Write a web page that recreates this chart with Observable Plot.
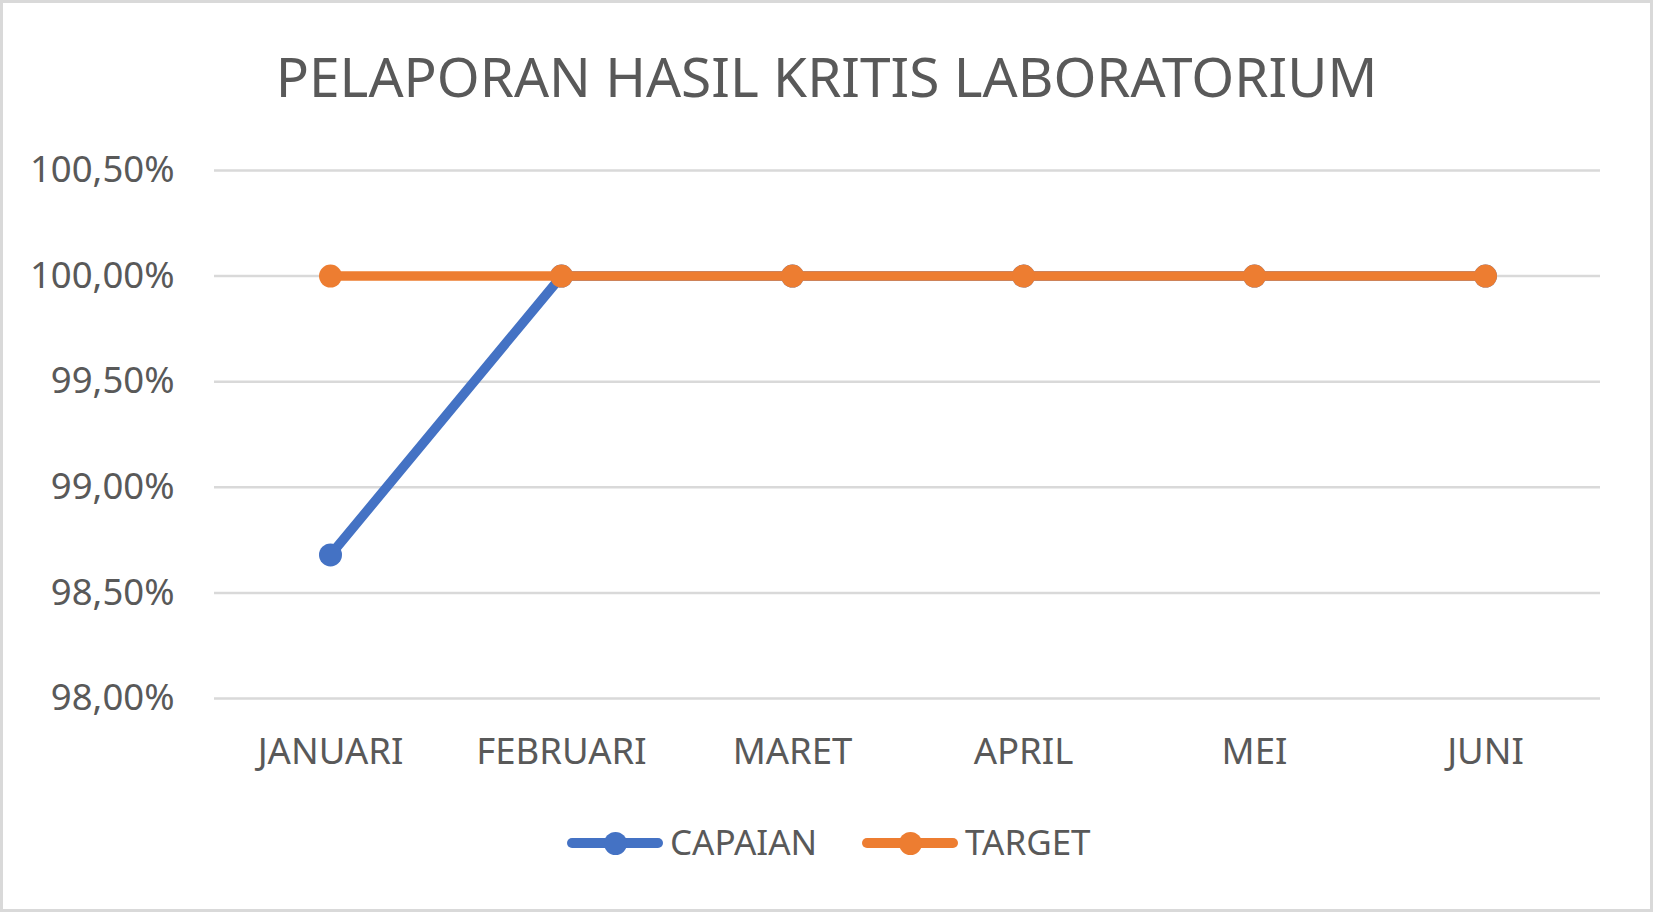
<!DOCTYPE html>
<html>
<head>
<meta charset="utf-8">
<script src="https://cdn.jsdelivr.net/npm/d3@7"></script>
<script src="https://cdn.jsdelivr.net/npm/@observablehq/plot@0.6"></script>
<style>
  html, body { margin: 0; padding: 0; background: #fff; }
  #wrap { position: relative; width: 1653px; height: 912px; background: #fff; font-family: "Noto Sans", sans-serif; color: #595959; overflow: hidden; }
  #frame { position: absolute; left: 0; top: 0; width: 1653px; height: 912px; box-sizing: border-box; border: 3px solid #d9d9d9; pointer-events: none; }
  #title { position: absolute; left: 0; top: 48px; width: 1653px; text-align: center; font-size: 55px; line-height: 1; white-space: nowrap; }
  #chart { position: absolute; left: 0; top: 120px; }
  .lg-line { position: absolute; height: 9.5px; border-radius: 5px; }
  .lg-dot { position: absolute; width: 23px; height: 23px; border-radius: 50%; }
  .lg-text { position: absolute; font-size: 35px; line-height: 1; white-space: nowrap; }
</style>
</head>
<body>
<div id="wrap">
  <div id="title">PELAPORAN HASIL KRITIS LABORATORIUM</div>
  <div id="chart"></div>
  <div id="legend"></div>
  <div id="frame"></div>
</div>
<script>
const months = ["JANUARI", "FEBRUARI", "MARET", "APRIL", "MEI", "JUNI"];
const capaian = [98.68, 100, 100, 100, 100, 100];
const target = [100, 100, 100, 100, 100, 100];
const yTicks = [98, 98.5, 99, 99.5, 100, 100.5];
const seriesNames = ["CAPAIAN", "TARGET"];
const seriesColors = ["#4472C4", "#ED7D31"];

const fmt = v => v.toFixed(2).replace(".", ",") + "%";

const capaianData = months.map((m, i) => ({month: m, value: capaian[i]}));
const targetData = months.map((m, i) => ({month: m, value: target[i]}));

const chart = Plot.plot({
  width: 1653,
  height: 680,
  marginLeft: 214,
  marginRight: 53,
  marginTop: 50,
  marginBottom: 102,
  x: {type: "point", domain: months, padding: 0.5, label: null},
  y: {domain: [98, 100.5], label: null},
  style: {fontFamily: "Noto Sans", fontSize: "36.5px", color: "#595959", background: "transparent", overflow: "visible"},
  marks: [
    Plot.gridY(yTicks, {stroke: "#d9d9d9", strokeOpacity: 1, strokeWidth: 2.5}),
    Plot.axisY({ticks: yTicks, tickSize: 0, tickPadding: 40, tickFormat: fmt, fontSize: 36.5, fill: "#595959", label: null}),
    Plot.axisX({tickSize: 0, tickPadding: 40, fontSize: 36.5, fill: "#595959", label: null}),
    Plot.lineY(capaianData, {x: "month", y: "value", stroke: seriesColors[0], strokeWidth: 9.5}),
    Plot.dot(capaianData, {x: "month", y: "value", r: 11.5, fill: seriesColors[0]}),
    Plot.lineY(targetData, {x: "month", y: "value", stroke: seriesColors[1], strokeWidth: 9.5}),
    Plot.dot(targetData, {x: "month", y: "value", r: 11.5, fill: seriesColors[1]})
  ]
});
document.getElementById("chart").appendChild(chart);

// legend
const legend = document.getElementById("legend");
const legendItems = [
  {lineLeft: 567, dotCenter: 615, textLeft: 670},
  {lineLeft: 862, dotCenter: 910, textLeft: 965}
];
const cy = 843;
legendItems.forEach((it, i) => {
  const ln = document.createElement("div");
  ln.className = "lg-line";
  ln.style.left = it.lineLeft + "px";
  ln.style.top = (cy - 4.75) + "px";
  ln.style.width = "96px";
  ln.style.background = seriesColors[i];
  legend.appendChild(ln);
  const dt = document.createElement("div");
  dt.className = "lg-dot";
  dt.style.left = (it.dotCenter - 11.5) + "px";
  dt.style.top = (cy - 11.5) + "px";
  dt.style.background = seriesColors[i];
  legend.appendChild(dt);
  const tx = document.createElement("div");
  tx.className = "lg-text";
  tx.style.left = it.textLeft + "px";
  tx.style.top = (cy - 19) + "px";
  tx.textContent = seriesNames[i];
  legend.appendChild(tx);
});
</script>
</body>
</html>
